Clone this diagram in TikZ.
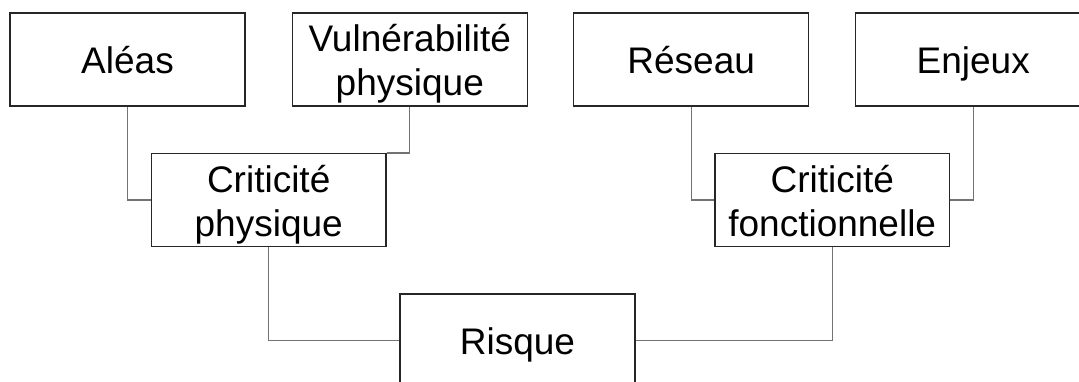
\documentclass[tikz,border=0pt]{standalone}
\usepackage{fontspec}
\setmainfont{Liberation Sans}
\tikzset{
  box/.style={draw=black!85, line width=1.2pt, fill=white, inner sep=0pt,
    minimum width=235pt, minimum height=93pt},
  txt/.style={inner sep=0pt, align=center, yshift=-5.5pt,
    font=\fontsize{37}{44}\selectfont},
  link/.style={draw=black!55, line width=1.3pt}
}
\begin{document}
\begin{tikzpicture}[x=1pt,y=-1pt]
\useasboundingbox (0,0) rectangle (1079,382);
\clip (0,0) rectangle (1079,382);
\node[box] (alea) at (127.5,59.5) {};
\node[box] (vuln) at (409.8,59.5) {};
\node[box] (reseau) at (691.2,59.5) {};
\node[box] (enjeux) at (973.2,59.5) {};
\node[box, minimum width=234.5pt] (cphys) at (268.7,200) {};
\node[box, minimum width=234.5pt] (cfonc) at (832.2,200) {};
\node[box] (risque) at (517.5,340.5) {};
\node[txt] (alea-t) at (alea) {\strut Aléas};
\node[txt] (vuln-t) at (vuln) {\strut Vulnérabilité\\\strut physique};
\node[txt] (reseau-t) at (reseau) {\strut Réseau};
\node[txt] (enjeux-t) at (enjeux) {\strut Enjeux};
\node[txt] (cphys-t) at (cphys) {\strut Criticité\\\strut physique};
\node[txt] (cfonc-t) at (cfonc) {\strut Criticité\\\strut fonctionnelle};
\node[txt] (risque-t) at (risque) {\strut Risque};
\draw[link] (alea.south) |- (cphys.west);
\draw[link] (vuln.south) |- (cphys.north east);
\draw[link] (reseau.south) |- (cfonc.west);
\draw[link] (enjeux.south) |- (cfonc.east);
\draw[link] (cphys.south) |- (risque.west);
\draw[link] (cfonc.south) |- (risque.east);
\end{tikzpicture}
\end{document}
